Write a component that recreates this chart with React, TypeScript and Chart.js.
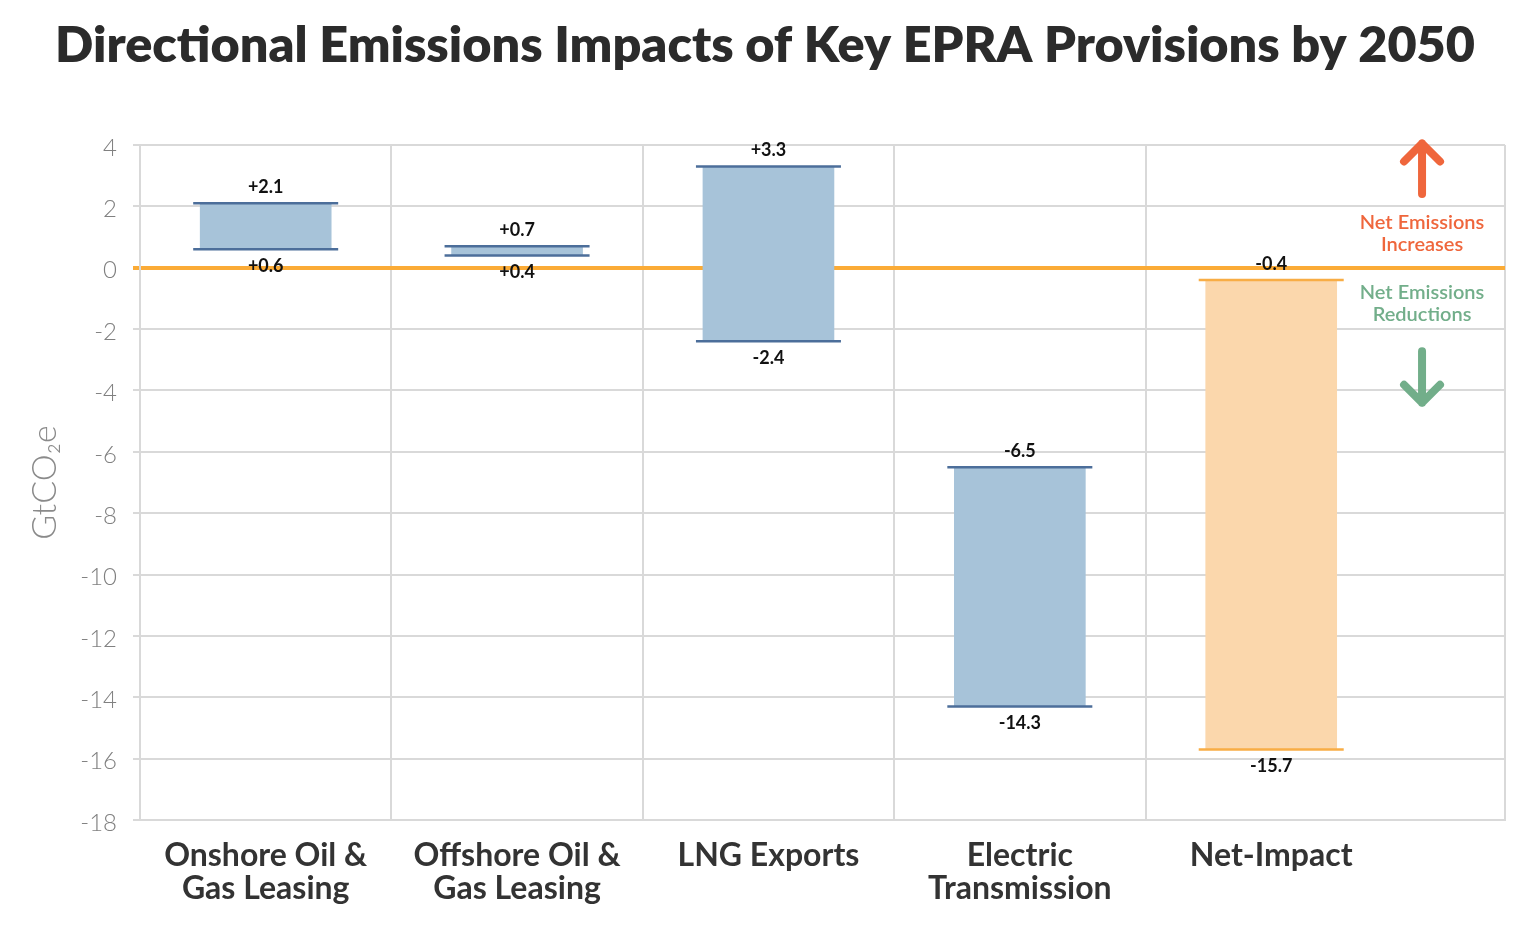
import React, { useEffect, useRef } from 'react';
import { Chart, registerables } from 'chart.js';

Chart.register(...registerables);

// ---- data ----
const categories: (string | string[])[] = [
  ['Onshore Oil &', 'Gas Leasing'],
  ['Offshore Oil &', 'Gas Leasing'],
  'LNG Exports',
  ['Electric', 'Transmission'],
  'Net-Impact',
];
const lowValues = [0.6, 0.4, -2.4, -14.3, -15.7];
const highValues = [2.1, 0.7, 3.3, -6.5, -0.4];
const isNetImpact = [false, false, false, false, true];
const yMin = -18;
const yMax = 4;
const yStep = 2;
const xMax = 5.43;
const titleText = 'Directional Emissions Impacts of Key EPRA Provisions by 2050';
const yTitle = 'GtCO₂e';
const noteUp = ['Net Emissions', 'Increases'];
const noteDown = ['Net Emissions', 'Reductions'];

// ---- styles ----
const BLUE_FILL = '#a7c3d9';
const BLUE_EDGE = '#4c6e9a';
const ORANGE_FILL = '#fbd7ac';
const ORANGE_EDGE = '#f8ad45';
const ZERO_LINE = '#fbab36';
const GRID = '#d9d9d9';
const UP_COLOR = '#ef663c';
const DOWN_COLOR = '#72ae8a';
const FONT = 'Lato';

const fmt = (v: number) => (v > 0 ? '+' + v.toFixed(1) : v.toFixed(1));

const xTickValues: number[] = [];
categories.forEach((_, i) => {
  xTickValues.push(i, i + 0.5);
});
xTickValues.push(xMax);

const titlePlugin = {
  id: 'customTitle',
  afterDraw(chart: any) {
    const ctx = chart.ctx;
    ctx.save();
    ctx.font = `800 50px ${FONT}`;
    const w = ctx.measureText(titleText).width;
    const sx = 1420 / w;
    ctx.translate(765, 62);
    ctx.scale(sx, 1);
    ctx.textAlign = 'center';
    ctx.textBaseline = 'alphabetic';
    ctx.fillStyle = '#2b2b2b';
    ctx.fillText(titleText, 0, 0);
    ctx.restore();
  },
};

const barEdgesPlugin = {
  id: 'barEdges',
  afterDatasetsDraw(chart: any) {
    const ctx = chart.ctx;
    const yScale = chart.scales.y;
    const meta = chart.getDatasetMeta(0);
    meta.data.forEach((bar: any, i: number) => {
      const { x, width } = bar.getProps(['x', 'width'], true);
      const half = width / 2 + 7;
      const yHigh = yScale.getPixelForValue(highValues[i]);
      const yLow = yScale.getPixelForValue(lowValues[i]);
      ctx.save();
      ctx.strokeStyle = isNetImpact[i] ? ORANGE_EDGE : BLUE_EDGE;
      ctx.lineWidth = 2.5;
      [yHigh, yLow].forEach((py) => {
        ctx.beginPath();
        ctx.moveTo(x - half, py);
        ctx.lineTo(x + half, py);
        ctx.stroke();
      });
      ctx.fillStyle = '#111';
      ctx.font = `bold 18px ${FONT}`;
      ctx.textAlign = 'center';
      ctx.textBaseline = 'middle';
      ctx.fillText(fmt(highValues[i]), x, yHigh - 16);
      ctx.fillText(fmt(lowValues[i]), x, yLow + 17);
      ctx.restore();
    });
  },
};

const notePlugin = {
  id: 'notes',
  afterDraw(chart: any) {
    const ctx = chart.ctx;
    const xs = chart.scales.x;
    const ys = chart.scales.y;
    const cx = xs.getPixelForValue(5.1);
    const arrow = (from: number, to: number, color: string) => {
      const y0 = ys.getPixelForValue(from);
      const y1 = ys.getPixelForValue(to);
      const dir = y1 < y0 ? 1 : -1;
      ctx.save();
      ctx.strokeStyle = color;
      ctx.lineWidth = 8;
      ctx.lineCap = 'round';
      ctx.lineJoin = 'round';
      ctx.beginPath();
      ctx.moveTo(cx, y0);
      ctx.lineTo(cx, y1);
      ctx.moveTo(cx - 18, y1 + dir * 18);
      ctx.lineTo(cx, y1);
      ctx.lineTo(cx + 18, y1 + dir * 18);
      ctx.stroke();
      ctx.restore();
    };
    arrow(2.4, 4.05, UP_COLOR);
    arrow(-2.72, -4.4, DOWN_COLOR);
    ctx.save();
    ctx.font = `600 20px ${FONT}`;
    ctx.textAlign = 'center';
    ctx.textBaseline = 'middle';
    ctx.fillStyle = UP_COLOR;
    ctx.fillText(noteUp[0], cx, ys.getPixelForValue(1.46));
    ctx.fillText(noteUp[1], cx, ys.getPixelForValue(0.74));
    ctx.fillStyle = DOWN_COLOR;
    ctx.fillText(noteDown[0], cx, ys.getPixelForValue(-0.8));
    ctx.fillText(noteDown[1], cx, ys.getPixelForValue(-1.52));
    ctx.restore();
  },
};

export default function App() {
  const canvasRef = useRef<HTMLCanvasElement | null>(null);

  useEffect(() => {
    document.body.style.margin = '0';
    const canvas = canvasRef.current;
    if (!canvas) return;
    const chart = new Chart(canvas, {
      type: 'bar',
      data: {
        datasets: [
          {
            data: categories.map((_, i) => ({ x: i + 0.5, y: [lowValues[i], highValues[i]] })) as any,
            backgroundColor: isNetImpact.map((n) => (n ? ORANGE_FILL : BLUE_FILL)),
            borderWidth: 0,
            barThickness: 131,
            grouped: false,
          } as any,
        ],
      },
      options: {
        animation: false,
        responsive: false,
        maintainAspectRatio: false,
        layout: { padding: { top: 145, right: 31, left: 0, bottom: 0 } },
        plugins: {
          legend: { display: false },
          tooltip: { enabled: false },
          title: { display: false },
        },
        scales: {
          x: {
            type: 'linear',
            offset: false,
            min: 0,
            max: xMax,
            afterBuildTicks(scale: any) {
              scale.ticks = xTickValues.map((v) => ({ value: v }));
            },
            afterFit(scale: any) {
              scale.height = 105;
            },
            ticks: {
              autoSkip: false,
              maxRotation: 0,
              minRotation: 0,
              padding: 19,
              color: '#333333',
              font: { family: FONT, size: 32, weight: 'bold', lineHeight: 1.03 },
              callback(value: any) {
                const v = Number(value);
                const frac = v - Math.floor(v);
                if (Math.abs(frac - 0.5) < 1e-6) return categories[Math.floor(v)] as any;
                return '';
              },
            },
            grid: {
              offset: false,
              drawTicks: false,
              lineWidth: 2,
              color(ctx: any) {
                const v = ctx.tick ? ctx.tick.value : NaN;
                if (Number.isInteger(v) && v < categories.length) return GRID;
                if (Math.abs(v - xMax) < 1e-6) return GRID;
                return 'rgba(0,0,0,0)';
              },
            },
            border: { color: GRID, width: 2 },
          } as any,
          y: {
            min: yMin,
            max: yMax,
            afterFit(scale: any) {
              scale.width = 140;
            },
            ticks: {
              stepSize: yStep,
              padding: 16,
              labelOffset: 3,
              color: '#808080',
              font: { family: FONT, size: 24, weight: '300' },
            },
            grid: {
              tickLength: 7,
              color(ctx: any) {
                return ctx.tick && ctx.tick.value === 0 ? ZERO_LINE : GRID;
              },
              lineWidth(ctx: any) {
                return ctx.tick && ctx.tick.value === 0 ? 4 : 2;
              },
            },
            border: { color: GRID, width: 2 },
            title: {
              display: true,
              text: yTitle,
              color: '#8a8a8a',
              font: { family: FONT, size: 34, weight: '300' },
              padding: { top: 25, bottom: 0 },
            },
          } as any,
        },
      },
      plugins: [barEdgesPlugin, notePlugin, titlePlugin],
    });
    return () => chart.destroy();
  }, []);

  return (
    <div style={{ width: 1536, height: 925 }}>
      <canvas ref={canvasRef} width={1536} height={925} style={{ display: 'block' }} />
    </div>
  );
}
